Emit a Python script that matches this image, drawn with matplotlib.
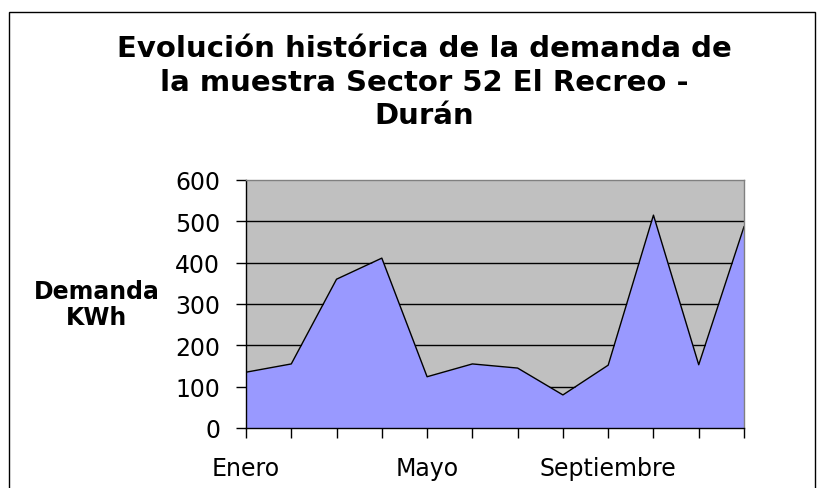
import matplotlib.pyplot as plt
import matplotlib.patches as mpatches

# data
meses = ['Enero', 'Febrero', 'Marzo', 'Abril', 'Mayo', 'Junio', 'Julio',
         'Agosto', 'Septiembre', 'Octubre', 'Noviembre', 'Diciembre']
demanda = [135, 155, 360, 411, 124, 155, 145, 80, 152, 515, 153, 487]
yticks = [0, 100, 200, 300, 400, 500, 600]
titulo = ['Evolución histórica de la demanda de',
          'la muestra Sector 52 El Recreo -',
          'Durán']
ylabel = 'Demanda\nKWh'

# the reference text is wide, DejaVu Sans is the closest wide face
plt.rcParams['font.family'] = ['DejaVu Sans']

fig = plt.figure(figsize=(8.25, 4.89), dpi=100)
fig.patch.set_facecolor('white')

# outer chart frame (bottom edge is cut off in the reference)
frame = mpatches.Rectangle((8.5 / 825, -0.1), (815 - 8.5) / 825, 1.1 - 12.5 / 489,
                           transform=fig.transFigure, fill=False,
                           edgecolor='black', linewidth=1.0, clip_on=False)
fig.patches.append(frame)

ax = fig.add_axes([246 / 825, 1 - 429 / 489, 498 / 825, 248 / 489])
ax.set_facecolor('#C0C0C0')

x = list(range(len(meses)))
ax.fill_between(x, demanda, 0, color='#9999FF', zorder=2, linewidth=0)
ax.plot(x, demanda, color='black', linewidth=1.0, zorder=3)

ax.set_xlim(0, len(meses) - 1)
ax.set_ylim(0, 600)
ax.set_yticks(yticks)
for v in yticks[1:-1]:
    ax.axhline(v, color='black', linewidth=1.0, zorder=1)

ax.set_xticks(x)
ax.set_xticklabels([m if i % 4 == 0 else '' for i, m in enumerate(meses)])

ax.tick_params(axis='x', direction='out', length=7, width=1, pad=13,
               labelsize=17, color='black')
ax.tick_params(axis='y', direction='out', length=7.5, width=1, pad=11,
               labelsize=17, color='black')

ax.spines['left'].set_color('black')
ax.spines['bottom'].set_color('black')
ax.spines['top'].set_color('#808080')
ax.spines['right'].set_color('#808080')
for s in ax.spines.values():
    s.set_linewidth(1.0)
    s.set_zorder(4)

# title lines, placed on the baselines seen in the reference
for linea, base in zip(titulo, [57, 91, 124]):
    fig.text(424 / 825, 1 - base / 489, linea, ha='center', va='baseline',
             fontsize=21, fontweight='bold')

fig.text(97 / 825, 1 - 305 / 489, ylabel, ha='center', va='center',
         fontsize=17, fontweight='bold', linespacing=1.15)

fig.savefig('out.png', dpi=100)
